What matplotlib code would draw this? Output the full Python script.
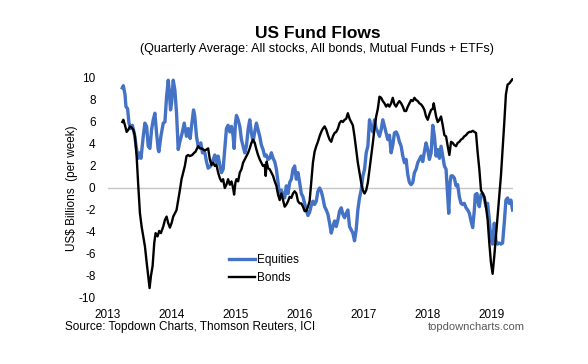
import matplotlib
matplotlib.use('Agg')
import matplotlib.pyplot as plt

plt.rcParams['font.family'] = ['Liberation Sans', 'DejaVu Sans']
plt.rcParams['axes.unicode_minus'] = False

# weekly flows, quarterly average (US$ bn / week)
eq_years = [2013.224, 2013.240, 2013.266, 2013.281, 2013.307, 2013.328, 2013.359, 2013.380, 2013.411, 2013.448,
            2013.474, 2013.500, 2013.516, 2013.552, 2013.578, 2013.604, 2013.630, 2013.656, 2013.682, 2013.708,
            2013.734, 2013.760, 2013.786, 2013.797, 2013.828, 2013.865, 2013.891, 2013.917, 2013.943, 2013.958,
            2013.979, 2013.995, 2014.021, 2014.047, 2014.073, 2014.099, 2014.125, 2014.161, 2014.193, 2014.229,
            2014.255, 2014.286, 2014.307, 2014.339, 2014.359, 2014.385, 2014.411, 2014.453, 2014.479, 2014.516,
            2014.542, 2014.568, 2014.609, 2014.646, 2014.672, 2014.698, 2014.724, 2014.750, 2014.776, 2014.802,
            2014.828, 2014.854, 2014.880, 2014.907, 2014.933, 2014.959, 2014.974, 2014.995, 2015.011, 2015.037,
            2015.063, 2015.089, 2015.115, 2015.141, 2015.167, 2015.193, 2015.219, 2015.245, 2015.271, 2015.297,
            2015.323, 2015.349, 2015.375, 2015.401, 2015.427, 2015.453, 2015.479, 2015.505, 2015.532, 2015.558,
            2015.584, 2015.610, 2015.636, 2015.662, 2015.688, 2015.714, 2015.740, 2015.766, 2015.792, 2015.818,
            2015.844, 2015.870, 2015.896, 2015.922, 2015.948, 2015.974, 2016.000, 2016.026, 2016.052, 2016.078,
            2016.104, 2016.130, 2016.156, 2016.182, 2016.208, 2016.234, 2016.260, 2016.286, 2016.312, 2016.338,
            2016.364, 2016.391, 2016.417, 2016.443, 2016.469, 2016.495, 2016.521, 2016.547, 2016.573, 2016.599,
            2016.625, 2016.651, 2016.677, 2016.703, 2016.729, 2016.755, 2016.781, 2016.807, 2016.833, 2016.859,
            2016.885, 2016.911, 2016.937, 2016.963, 2016.990, 2017.016, 2017.042, 2017.068, 2017.094, 2017.120,
            2017.146, 2017.172, 2017.198, 2017.224, 2017.250, 2017.276, 2017.302, 2017.328, 2017.354, 2017.380,
            2017.406, 2017.432, 2017.458, 2017.484, 2017.510, 2017.536, 2017.562, 2017.589, 2017.615, 2017.641,
            2017.667, 2017.693, 2017.719, 2017.745, 2017.771, 2017.797, 2017.823, 2017.849, 2017.875, 2017.901,
            2017.927, 2017.953, 2017.979, 2018.005, 2018.031, 2018.058, 2018.084, 2018.110, 2018.136, 2018.162,
            2018.188, 2018.214, 2018.240, 2018.266, 2018.292, 2018.318, 2018.334, 2018.355, 2018.370, 2018.396,
            2018.422, 2018.448, 2018.474, 2018.500, 2018.526, 2018.552, 2018.578, 2018.605, 2018.631, 2018.657,
            2018.683, 2018.709, 2018.735, 2018.750, 2018.776, 2018.797, 2018.813, 2018.839, 2018.865, 2018.891,
            2018.917, 2018.943, 2018.969, 2018.995, 2019.021, 2019.047, 2019.073, 2019.099, 2019.125, 2019.151,
            2019.177, 2019.203, 2019.229, 2019.255, 2019.281, 2019.307, 2019.333]
equities = [9.1, 9.3, 8.5, 7.4, 7.2, 5.9, 5.4, 5.7, 5.0, 3.5,
            2.7, 3.2, 2.7, 4.7, 5.9, 5.6, 3.8, 3.6, 5.3, 6.2,
            6.8, 5.0, 3.5, 3.3, 4.7, 5.9, 6.0, 8.3, 9.8, 8.9,
            7.1, 7.7, 9.8, 8.9, 6.8, 3.5, 4.2, 5.0, 5.9, 4.7,
            5.4, 4.5, 5.6, 7.1, 6.5, 4.7, 3.8, 4.1, 3.2, 3.2,
            2.4, 1.8, 2.0, 2.6, 3.0, 2.3, 2.9, 2.1, 1.4, 1.7,
            3.5, 5.4, 5.7, 5.1, 5.6, 4.7, 3.6, 5.9, 6.6, 6.2,
            5.6, 4.4, 3.8, 3.2, 3.8, 5.3, 6.2, 5.0, 4.2, 5.1,
            5.9, 5.3, 4.7, 3.9, 3.5, 2.9, 3.0, 2.6, 2.7, 3.2,
            2.7, 2.4, 1.7, 0.5, -0.8, -0.2, -0.6, -0.9, 0.2, -0.5,
            0.5, 0.8, 1.7, 2.0, 0.8, 1.4, 0.5, -0.5, -0.8, -1.4,
            -2.0, -2.5, -2.2, -1.6, -1.2, -1.5, -1.2, -0.3, 0.0, -0.3,
            -0.9, -1.7, -2.0, -2.4, -3.2, -4.1, -3.5, -3.0, -3.5, -2.9,
            -2.1, -1.8, -2.4, -2.7, -2.3, -2.0, -3.5, -3.8, -4.1, -4.8,
            -3.8, -2.0, -0.9, -0.2, 1.1, 1.7, 3.2, 3.8, 6.2, 5.4,
            5.1, 6.2, 5.4, 5.1, 4.7, 5.3, 6.2, 5.6, 5.0, 4.4,
            4.8, 3.2, 3.9, 5.0, 5.1, 4.8, 4.2, 3.8, 2.9, 2.3,
            2.6, 1.2, 0.5, 0.3, 0.5, 1.4, 1.7, 2.3, 2.6, 2.9,
            2.4, 3.3, 4.1, 3.5, 2.6, 3.2, 5.7, 4.7, 2.9, 3.5,
            2.7, 3.8, 2.9, 2.0, 1.7, -0.8, -2.3, 0.5, 1.1, 1.1,
            0.9, 0.2, 0.3, -0.8, -1.4, -1.5, -1.4, -1.8, -2.0, -2.3,
            -3.0, -3.6, -2.0, -0.6, -0.5, -1.4, -1.7, -0.6, -0.5, -0.9,
            -1.7, -1.4, -2.9, -4.7, -5.1, -3.2, -4.8, -5.1, -5.0, -5.1,
            -5.0, -3.2, -1.1, -0.9, -1.4, -1.1, -2.0]

bd_years = [2013.224, 2013.240, 2013.266, 2013.292, 2013.318, 2013.344, 2013.370, 2013.396, 2013.422, 2013.448,
            2013.474, 2013.500, 2013.526, 2013.552, 2013.578, 2013.604, 2013.630, 2013.651, 2013.672, 2013.698,
            2013.724, 2013.745, 2013.776, 2013.802, 2013.828, 2013.865, 2013.891, 2013.917, 2013.943, 2013.969,
            2013.995, 2014.021, 2014.047, 2014.073, 2014.099, 2014.125, 2014.151, 2014.177, 2014.203, 2014.229,
            2014.255, 2014.281, 2014.318, 2014.349, 2014.370, 2014.411, 2014.438, 2014.464, 2014.490, 2014.516,
            2014.568, 2014.594, 2014.620, 2014.646, 2014.672, 2014.698, 2014.724, 2014.750, 2014.776, 2014.802,
            2014.828, 2014.854, 2014.880, 2014.907, 2014.933, 2014.959, 2014.974, 2014.995, 2015.011, 2015.037,
            2015.063, 2015.089, 2015.115, 2015.141, 2015.167, 2015.193, 2015.219, 2015.245, 2015.271, 2015.297,
            2015.323, 2015.349, 2015.375, 2015.401, 2015.427, 2015.453, 2015.469, 2015.484, 2015.505, 2015.532,
            2015.558, 2015.584, 2015.610, 2015.636, 2015.662, 2015.688, 2015.714, 2015.740, 2015.766, 2015.792,
            2015.818, 2015.844, 2015.870, 2015.896, 2015.922, 2015.948, 2015.974, 2016.000, 2016.026, 2016.052,
            2016.078, 2016.104, 2016.130, 2016.156, 2016.182, 2016.208, 2016.234, 2016.260, 2016.286, 2016.312,
            2016.338, 2016.364, 2016.391, 2016.417, 2016.443, 2016.469, 2016.495, 2016.521, 2016.547, 2016.573,
            2016.599, 2016.625, 2016.651, 2016.677, 2016.703, 2016.729, 2016.755, 2016.781, 2016.807, 2016.833,
            2016.859, 2016.885, 2016.911, 2016.937, 2016.963, 2016.990, 2017.016, 2017.042, 2017.068, 2017.094,
            2017.120, 2017.146, 2017.172, 2017.198, 2017.224, 2017.250, 2017.276, 2017.302, 2017.328, 2017.354,
            2017.380, 2017.406, 2017.432, 2017.458, 2017.484, 2017.510, 2017.536, 2017.562, 2017.589, 2017.615,
            2017.641, 2017.667, 2017.693, 2017.719, 2017.745, 2017.771, 2017.797, 2017.823, 2017.849, 2017.875,
            2017.901, 2017.927, 2017.953, 2017.979, 2018.005, 2018.031, 2018.058, 2018.084, 2018.099, 2018.120,
            2018.136, 2018.162, 2018.188, 2018.214, 2018.240, 2018.266, 2018.292, 2018.318, 2018.344, 2018.370,
            2018.396, 2018.422, 2018.448, 2018.474, 2018.500, 2018.526, 2018.552, 2018.578, 2018.605, 2018.631,
            2018.657, 2018.683, 2018.709, 2018.735, 2018.761, 2018.787, 2018.813, 2018.839, 2018.865, 2018.891,
            2018.917, 2018.943, 2018.969, 2018.995, 2019.021, 2019.047, 2019.073, 2019.099, 2019.125, 2019.151,
            2019.177, 2019.203, 2019.229, 2019.255, 2019.281, 2019.307, 2019.333]
bonds = [6.0, 6.2, 5.7, 5.1, 5.3, 5.6, 5.5, 5.3, 4.7, 2.9,
         0.2, -2.3, -3.5, -4.4, -5.3, -6.7, -8.0, -9.1, -8.0, -7.1,
         -5.0, -4.1, -4.4, -3.9, -4.1, -3.5, -2.9, -2.6, -3.2, -3.6,
         -3.2, -2.6, -2.3, -2.0, -1.1, -0.2, 0.8, 1.4, 2.0, 2.9,
         3.0, 2.9, 3.0, 3.2, 3.3, 3.8, 3.6, 3.6, 3.5, 3.4,
         3.6, 2.6, 2.1, 2.3, 2.0, 2.1, 1.4, 0.9, 0.6, 0.8,
         0.0, 0.3, 0.8, 0.3, 0.6, 0.0, -0.6, 0.5, 0.8, 0.6,
         1.4, 1.7, 2.3, 2.6, 2.9, 3.2, 3.6, 4.1, 4.4, 4.1,
         3.5, 3.0, 2.6, 2.3, 2.0, 2.1, 1.1, 2.4, 1.8, 1.7,
         1.4, 1.1, 0.6, 0.2, -0.6, -1.1, -0.5, -1.1, -1.7, -1.5,
         -1.2, -0.8, -0.9, -0.5, -0.3, -0.5, -1.2, -1.4, -1.4, -1.7,
         -2.1, -2.1, -1.7, -1.2, 0.5, 2.3, 3.3, 3.8, 4.2, 4.7,
         5.1, 5.4, 5.6, 5.3, 4.8, 4.4, 4.2, 4.7, 5.0, 5.1,
         5.4, 5.9, 6.1, 6.0, 6.2, 6.3, 6.8, 6.3, 6.0, 5.7,
         4.7, 3.5, 2.3, 1.4, 0.5, -0.2, -0.5, -0.2, 0.5, 1.7,
         2.9, 4.1, 5.4, 6.5, 7.2, 8.3, 8.2, 7.9, 7.7, 7.4,
         7.6, 7.4, 7.7, 8.2, 7.6, 7.4, 7.7, 7.9, 7.7, 7.4,
         7.0, 7.0, 7.4, 7.7, 8.0, 7.9, 8.2, 8.0, 7.9, 7.7,
         7.6, 7.4, 7.1, 6.5, 6.2, 6.7, 7.1, 7.2, 7.7, 7.0,
         6.5, 6.0, 6.2, 6.5, 5.7, 4.8, 4.7, 3.8, 3.0, 4.2,
         4.1, 3.9, 3.8, 4.1, 4.2, 4.4, 4.5, 4.7, 4.8, 5.0,
         5.1, 5.1, 5.2, 5.1, 5.0, 3.2, 1.7, -0.2, -0.5, -0.8,
         -1.7, -2.9, -5.0, -6.8, -7.8, -6.2, -4.4, -2.6, -0.8, 1.1,
         3.5, 5.9, 8.5, 9.4, 9.5, 9.7, 9.9]

year_ticks = [2013, 2014, 2015, 2016, 2017, 2018, 2019]
value_ticks = [-10, -8, -6, -4, -2, 0, 2, 4, 6, 8, 10]

fig = plt.figure(figsize=(5.88, 3.64), dpi=100)
ax = fig.add_axes([108 / 588, 1 - 298 / 364, 405 / 588, 220 / 364])

ax.axhline(0, color='#c6c6c6', lw=1, zorder=1)
ax.plot(eq_years, equities, color='#4472C4', lw=2.4, label='Equities', zorder=2)
ax.plot(bd_years, bonds, color='black', lw=1.7, label='Bonds', zorder=3)

ax.set_xlim(2013, 2019.34)
ax.set_ylim(-10, 10)
ax.set_xticks(year_ticks)
ax.set_xticklabels([str(y) for y in year_ticks])
ax.set_yticks(value_ticks)
for s in ax.spines.values():
    s.set_visible(False)
ax.tick_params(axis='both', length=0, labelsize=8.5)
ax.tick_params(axis='y', pad=9)
ax.tick_params(axis='x', pad=8)

leg = ax.legend(loc='upper left', bbox_to_anchor=(229 / 588, 1 - 254 / 364), bbox_transform=fig.transFigure,
                frameon=False, fontsize=8.5, handlelength=2.2, handletextpad=0.2, labelspacing=0.55,
                borderpad=0, borderaxespad=0)

fig.text(318 / 588, 1 - 33 / 364, 'US Fund Flows', ha='center', va='center', fontsize=12.5, weight='bold')
fig.text(317 / 588, 1 - 49 / 364, '(Quarterly Average: All stocks, All bonds, Mutual Funds + ETFs)',
         ha='center', va='center', fontsize=9)
fig.text(72 / 588, 1 - 188 / 364, 'US$ Billions  (per week)', rotation=90, ha='center', va='center', fontsize=8.5)
fig.text(65 / 588, 1 - 327 / 364, 'Source: Topdown Charts, Thomson Reuters, ICI', ha='left', va='center', fontsize=8.5)
fig.text(525 / 588, 1 - 327 / 364, 'topdowncharts.com', ha='right', va='center', fontsize=8, color='#595959')

fig.savefig('out.png', dpi=100)
